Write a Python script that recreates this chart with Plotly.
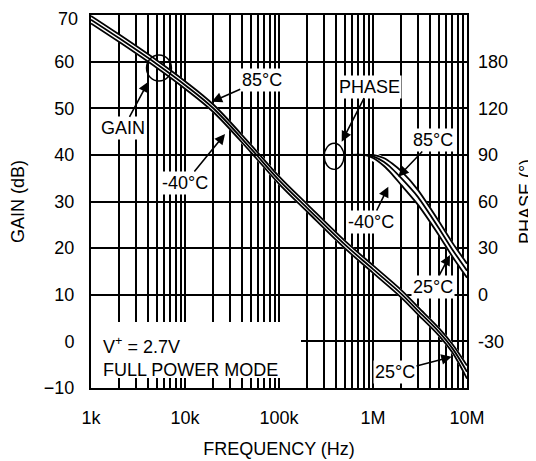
import plotly.graph_objects as go

# ---- data ----
freq_gain = [1e3, 2e3, 5e3, 1e4, 2e4, 5e4, 1e5, 2e5, 5e5, 1e6, 2e6, 3e6, 5e6, 7e6, 1e7]
gain_85 = [69.8, 65.8, 60.3, 55.8, 50.8, 42.2, 35.4, 29.4, 21.6, 16.3, 11.0, 7.4, 2.9, -0.6, -5.2]
gain_25 = [69.0, 65.0, 59.5, 55.0, 50.0, 41.4, 34.6, 28.6, 20.8, 15.5, 10.2, 6.6, 2.1, -1.5, -6.5]
gain_m40 = [68.2, 64.2, 58.7, 54.2, 49.2, 40.6, 33.8, 27.8, 20.0, 14.7, 9.4, 5.8, 1.3, -2.4, -8.0]

freq_phase = [1e3, 1e4, 1e5, 5e5, 8e5, 1e6, 1.3e6, 1.6e6, 2e6, 3e6, 5e6, 7e6, 1e7]
phase_85 = [90, 90, 90, 90, 90, 90, 88, 84.5, 79.5, 67.5, 47.5, 33.5, 20]
phase_25 = [90, 90, 90, 90, 90, 89, 85.5, 81, 75, 63, 43, 29, 15.5]
phase_m40 = [90, 90, 90, 90, 90, 88, 83, 77.5, 70.5, 58, 38.5, 24.5, 11]

x_tick_vals = [1e3, 1e4, 1e5, 1e6, 1e7]
x_tick_text = ["1k", "10k", "100k", "1M", "10M"]
gain_ticks = [-10, 0, 10, 20, 30, 40, 50, 60]
gain_top_tick = 70
phase_tick_vals = [150, 120, 90, 60, 30, 0, -30]
phase_tick_text = ["180", "120", "90", "60", "30", "0", "-30"]

FONT = "Liberation Sans, Arial, sans-serif"
minor_vals = [m * 10 ** k for k in range(3, 7) for m in range(2, 10)]

fig = go.Figure()

# white under-band then three temperature lines, gain
fig.add_trace(go.Scatter(x=freq_gain, y=gain_25, mode="lines",
                         line=dict(color="white", width=7, shape="spline", smoothing=1.0),
                         hoverinfo="skip", showlegend=False))
for g in (gain_85, gain_25, gain_m40):
    fig.add_trace(go.Scatter(x=freq_gain, y=g, mode="lines",
                             line=dict(color="black", width=1.8, shape="spline", smoothing=1.0),
                             showlegend=False))

# phase on secondary axis
fig.add_trace(go.Scatter(x=freq_phase[5:], y=phase_25[5:], mode="lines", yaxis="y2",
                         line=dict(color="white", width=9, shape="spline", smoothing=0.5),
                         hoverinfo="skip", showlegend=False))
for p in (phase_85, phase_25, phase_m40):
    fig.add_trace(go.Scatter(x=freq_phase, y=p, mode="lines", yaxis="y2",
                             line=dict(color="black", width=1.8, shape="spline", smoothing=0.5),
                             showlegend=False))

ann_font = dict(family=FONT, size=18, color="black")

def label(text, tx, ty, hx, hy):
    fig.add_annotation(x=hx, y=hy, ax=tx, ay=ty, xref="x", yref="y", axref="x", ayref="y",
                       text=text, showarrow=True, arrowhead=2, arrowsize=1.3, arrowwidth=1.6,
                       arrowcolor="black", font=ann_font, bgcolor="white", borderpad=1)

label("GAIN", 3.344, 45.7, 3.610, 55.7)
label("85°C", 4.816, 56.06, 4.284, 51.4)
label("-40°C", 4.0, 33.97, 4.426, 44.5)
label("PHASE", 5.968, 54.62, 5.667, 42.83)
label("85°C", 6.641, 43.19, 6.269, 35.32)
label("-40°C", 5.979, 25.6, 6.163, 33.17)
label("25°C", 6.641, 11.73, 6.819, 18.53)
label("25°C", 6.234, -6.5, 6.837, -3.29)

# top gain tick label, nudged down so it stays inside the page
fig.add_annotation(x=0, y=gain_top_tick, xref="paper", yref="y", xanchor="right",
                   yanchor="middle", xshift=-11, yshift=-4, text=str(gain_top_tick),
                   showarrow=False, font=dict(family=FONT, size=18, color="black"))

# white box behind the condition text
fig.add_shape(type="rect", xref="x", yref="y", x0=1e3, x1=1.714e5, y0=-7.86, y1=4.15,
              fillcolor="white", line=dict(width=0), layer="between")
fig.add_annotation(x=3.106, y=-3.25, xref="x", yref="y", xanchor="left",
                   text="V<sup>+</sup> = 2.7V<br>FULL POWER MODE", align="left",
                   showarrow=False, font=dict(family=FONT, size=18, color="black"))

# circles marking the curves
fig.add_shape(type="circle", xref="x", yref="y", x0=3892, x1=7178, y0=55.84, y1=61.42,
              line=dict(color="black", width=1.4), layer="above")
fig.add_shape(type="circle", xref="x", yref="y", x0=3.03e5, x1=4.91e5, y0=36.9, y1=42.48,
              line=dict(color="black", width=1.4), layer="above")

fig.update_layout(
    width=528, height=453,
    margin=dict(l=83, r=69, t=7, b=73, autoexpand=False),
    paper_bgcolor="white", plot_bgcolor="white",
    font=dict(family=FONT, size=18, color="black"),
    xaxis=dict(type="log", range=[3, 7], tickvals=x_tick_vals, ticktext=x_tick_text,
               showgrid=True, gridcolor="black", gridwidth=1.6, automargin=False,
               showline=True, linecolor="black", linewidth=2, mirror=True,
               ticks="", ticklabelstandoff=12, zeroline=False, ticklabeloverflow="allow",
               tickfont=dict(size=18),
               minor=dict(tickvals=minor_vals, showgrid=True, gridcolor="black", gridwidth=1.6,
                          ticks="inside", ticklen=6, tickcolor="black", tickwidth=1.6),
               title=dict(text="FREQUENCY (Hz)", font=dict(size=18), standoff=16)),
    yaxis=dict(range=[-10, 70], tickvals=gain_ticks, showgrid=True, gridcolor="black",
               gridwidth=1.6, showline=True, linecolor="black", linewidth=2, mirror=True,
               ticks="", ticklabelstandoff=11, zeroline=False, ticklabeloverflow="allow",
               tickfont=dict(size=18), automargin=False,
               title=dict(text="GAIN (dB)", font=dict(size=18), standoff=18)),
    yaxis2=dict(range=[-60, 180], overlaying="y", side="right", tickvals=phase_tick_vals,
                ticktext=phase_tick_text, showgrid=False, zeroline=False, ticks="",
                ticklabelstandoff=10, tickfont=dict(size=18), ticklabeloverflow="allow",
                automargin=False,
                title=dict(text="PHASE (°)", font=dict(size=18), standoff=16)),
)

fig.write_html("out.html")
